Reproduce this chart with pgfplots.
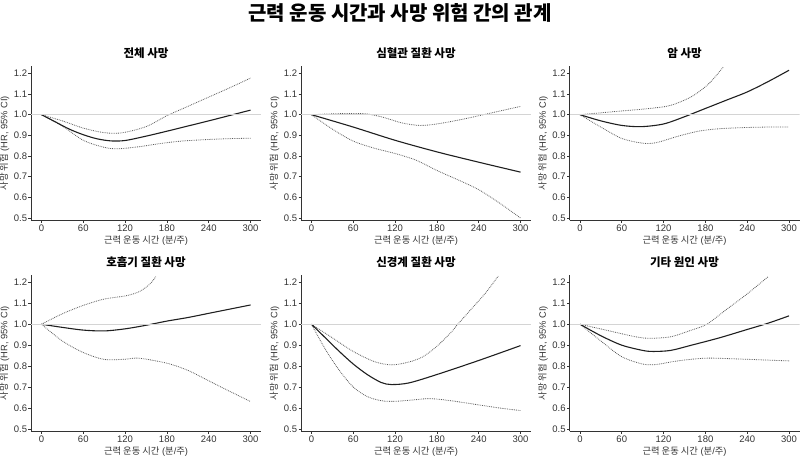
\documentclass[border=0pt]{standalone}
\usepackage{pgfplots}
\pgfplotsset{compat=1.18}
\usepackage{fontspec}
\setmainfont{Liberation Sans}
\newfontfamily\kr{Noto Sans CJK KR}
\definecolor{axc}{HTML}{333333}
\definecolor{cil}{HTML}{5A5A5A}
\definecolor{refl}{HTML}{D4D4D4}
\pgfplotsset{
  panel/.style={
    scale only axis, width=230pt,
    xmin=-15, xmax=315, ymin=0.488, ymax=1.235,
    axis x line*=bottom, axis y line*=left,
    axis line style={axc, line width=0.7pt, -},
    tick align=outside, major tick length=2.5pt,
    tick style={axc, line width=0.6pt},
    xtick={0,60,...,300}, ytick={0.5,0.6,...,1.2},
    tick label style={font=\fontsize{9.5}{10}\selectfont, color=axc},
    /pgf/number format/assume math mode=true,
    yticklabel style={inner xsep=1.2pt, /pgf/number format/fixed, /pgf/number format/fixed zerofill, /pgf/number format/precision=1},
    xticklabel style={inner ysep=2pt},
    every axis title/.style={at={(0.5,1)}, anchor=center, yshift=13pt, font=\kr\bfseries\fontsize{11.5}{12}\selectfont},
    every axis x label/.style={at={(0.5,0)}, anchor=center, yshift=-20pt, font=\fontsize{9.3}{10}\selectfont, color=axc},
    every axis y label/.style={at={(0,0.5)}, xshift=-26.5pt, rotate=90, anchor=center, font=\fontsize{9.3}{10}\selectfont, color=axc},
    xlabel={{\kr 근력 운동 시간} ({\kr 분}/{\kr 주})},
    ylabel={{\kr 사망 위험} (HR, 95\% CI)},
    clip=true,
  },
  est/.style={black!88, line width=1.1pt, smooth, no marks},
  ci/.style={cil, line width=0.8pt, densely dotted, smooth, no marks},
  ref/.style={refl, line width=0.9pt, no marks},
}
\begin{document}
\begin{tikzpicture}
\useasboundingbox (0pt,0pt) rectangle (800pt,476pt);
\node[font=\kr\bfseries\fontsize{20}{22}\selectfont] at (400pt,463pt) {근력 운동 시간과 사망 위험 간의 관계};

% Panel 1
\begin{axis}[panel, height=154.4pt, at={(31pt,255.5pt)}, anchor=south west, title={전체 사망}]
\addplot[ci] coordinates {(0,1.0) (30,0.97) (60,0.935) (90,0.913) (115,0.912) (150,0.942) (180,0.995) (210,1.04) (240,1.085) (270,1.13) (300,1.177)};
\addplot[ci] coordinates {(0,1.0) (30,0.945) (60,0.876) (90,0.842) (110,0.835) (140,0.845) (170,0.86) (200,0.872) (240,0.88) (270,0.884) (300,0.886)};
\addplot[est] coordinates {(0,1.0) (20,0.965) (40,0.93) (60,0.903) (80,0.883) (100,0.873) (120,0.875) (150,0.896) (180,0.92) (210,0.945) (240,0.97) (270,0.996) (300,1.022)};
\addplot[ref] coordinates {(-15,1) (315,1)};
\end{axis}

% Panel 2
\begin{axis}[panel, height=154.4pt, at={(301pt,255.5pt)}, anchor=south west, title={심혈관 질환 사망}]
\addplot[ci] coordinates {(0,1.0) (40,1.005) (75,1.005) (100,0.99) (130,0.96) (155,0.948) (180,0.955) (220,0.98) (260,1.01) (300,1.04)};
\addplot[ci] coordinates {(0,1.0) (30,0.93) (60,0.872) (90,0.838) (120,0.812) (150,0.78) (180,0.73) (210,0.685) (240,0.637) (270,0.572) (300,0.5)};
\addplot[est] coordinates {(0,1.0) (60,0.94) (120,0.876) (180,0.82) (240,0.77) (300,0.722)};
\addplot[ref] coordinates {(-15,1) (315,1)};
\end{axis}

% Panel 3
\begin{axis}[panel, height=154.4pt, at={(569.5pt,255.5pt)}, anchor=south west, title={암 사망}]
\addplot[ci] coordinates {(0,1.0) (50,1.015) (100,1.03) (130,1.045) (160,1.087) (185,1.15) (206,1.232)};
\addplot[ci] coordinates {(0,1.0) (30,0.94) (60,0.885) (90,0.862) (110,0.865) (140,0.895) (170,0.92) (200,0.932) (240,0.938) (270,0.94) (300,0.94)};
\addplot[est] coordinates {(0,1.0) (30,0.97) (60,0.948) (88,0.942) (120,0.955) (150,0.99) (180,1.03) (210,1.07) (240,1.11) (270,1.16) (300,1.215)};
\addplot[ref] coordinates {(-15,1) (315,1)};
\end{axis}

% Panel 4
\begin{axis}[panel, height=156.5pt, at={(31pt,44.5pt)}, anchor=south west, title={호흡기 질환 사망}]
\addplot[ci] coordinates {(0,1.0) (30,1.05) (60,1.09) (90,1.12) (120,1.135) (140,1.155) (155,1.19) (164,1.227)};
\addplot[ci] coordinates {(0,1.0) (30,0.92) (60,0.865) (90,0.832) (120,0.833) (140,0.838) (180,0.814) (210,0.78) (240,0.73) (270,0.68) (300,0.631)};
\addplot[est] coordinates {(0,1.0) (30,0.985) (60,0.972) (90,0.968) (120,0.978) (150,0.995) (180,1.015) (210,1.032) (240,1.052) (270,1.072) (300,1.092)};
\addplot[ref] coordinates {(-15,1) (315,1)};
\end{axis}

% Panel 5
\begin{axis}[panel, height=156.5pt, at={(301pt,44.5pt)}, anchor=south west, title={신경계 질환 사망}]
\addplot[ci] coordinates {(0,1.0) (30,0.935) (60,0.87) (90,0.822) (115,0.806) (140,0.82) (160,0.845) (180,0.895) (200,0.96) (210,1.0) (230,1.075) (250,1.15) (268,1.23)};
\addplot[ci] coordinates {(0,1.0) (20,0.88) (40,0.78) (60,0.7) (80,0.655) (100,0.635) (120,0.632) (150,0.64) (170,0.645) (200,0.635) (240,0.615) (270,0.6) (300,0.588)};
\addplot[est] coordinates {(0,1.0) (20,0.935) (40,0.87) (60,0.81) (80,0.76) (100,0.722) (115,0.712) (140,0.72) (180,0.76) (240,0.827) (300,0.898)};
\addplot[ref] coordinates {(-15,1) (315,1)};
\end{axis}

% Panel 6
\begin{axis}[panel, height=156.5pt, at={(569.5pt,44.5pt)}, anchor=south west, title={기타 원인 사망}]
\addplot[ci] coordinates {(0,1.0) (40,0.97) (80,0.94) (100,0.933) (130,0.94) (160,0.972) (182,1.0) (210,1.07) (240,1.145) (270,1.227)};
\addplot[ci] coordinates {(0,1.0) (30,0.92) (60,0.845) (90,0.81) (110,0.808) (140,0.825) (180,0.838) (220,0.835) (260,0.83) (300,0.825)};
\addplot[est] coordinates {(0,1.0) (30,0.945) (60,0.9) (90,0.875) (105,0.87) (130,0.875) (160,0.9) (200,0.935) (240,0.975) (270,1.005) (300,1.04)};
\addplot[ref] coordinates {(-15,1) (315,1)};
\end{axis}
\end{tikzpicture}
\end{document}
